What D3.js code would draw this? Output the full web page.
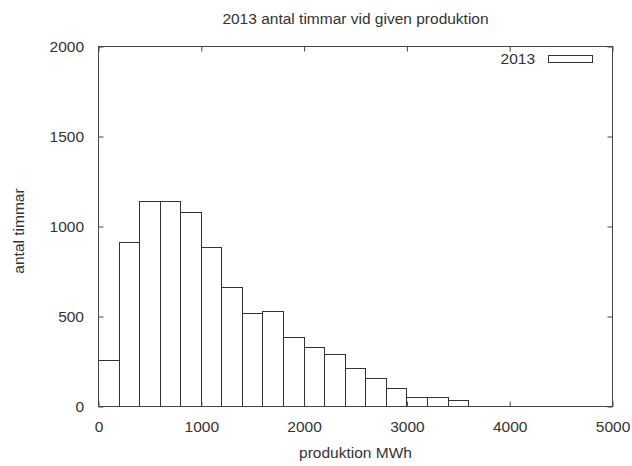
<!DOCTYPE html>
<html>
<head>
<meta charset="utf-8">
<script src="https://cdn.jsdelivr.net/npm/d3@7"></script>
<style>
  html, body { margin: 0; padding: 0; background: #fff; }
  svg { display: block; }
  text { font-family: "Liberation Sans", Arial, sans-serif; fill: #333; }
</style>
</head>
<body>
<svg id="chart" width="632" height="466"></svg>
<script>
// Histogram of hours per production bin (200 MWh bins)
const binStarts = [0, 200, 400, 600, 800, 1000, 1200, 1400, 1600, 1800,
                   2000, 2200, 2400, 2600, 2800, 3000, 3200, 3400];
const hours2013 = [255, 913, 1139, 1141, 1076, 883, 661, 519, 528, 385,
                   328, 291, 213, 157, 98, 52, 48, 35];
const binWidth = 200;
const xTicks = [0, 1000, 2000, 3000, 4000, 5000];
const yTicks = [0, 500, 1000, 1500, 2000];
const seriesName = "2013";

const W = 632, H = 466;
const plot = { left: 98.5, right: 612.5, top: 46.5, bottom: 406.5 };
const fontSize = 15.5;
const lineColor = "#444";
const tickLen = 5;

const svg = d3.select("#chart");
const x = d3.scaleLinear().domain([0, 5000]).range([plot.left, plot.right]);
const y = d3.scaleLinear().domain([0, 2000]).range([plot.bottom, plot.top]);
const snap = v => Math.round(v - 0.5) + 0.5;

// bars
svg.append("g")
  .selectAll("rect")
  .data(binStarts.map((b, i) => ({ b, v: hours2013[i] })))
  .join("rect")
  .attr("x", d => snap(x(d.b)))
  .attr("y", d => snap(y(d.v)))
  .attr("width", d => snap(x(d.b + binWidth)) - snap(x(d.b)))
  .attr("height", d => snap(y(0)) - snap(y(d.v)))
  .attr("fill", "#fff")
  .attr("stroke", "#333")
  .attr("stroke-width", 1);

// axes with inward ticks, gnuplot style
function styleAxis(g) {
  g.select(".domain").remove();
  g.selectAll(".tick line").attr("stroke", lineColor);
  g.selectAll(".tick text")
    .attr("font-size", fontSize)
    .attr("font-family", '"Liberation Sans", Arial, sans-serif')
    .attr("fill", "#333");
}

svg.append("g")
  .attr("transform", `translate(0,${plot.bottom})`)
  .call(d3.axisBottom(x).tickValues(xTicks).tickSize(-tickLen).tickPadding(14.5).tickFormat(d3.format("d")))
  .call(styleAxis);

svg.append("g")
  .attr("transform", `translate(0,${plot.top})`)
  .call(d3.axisTop(x).tickValues(xTicks).tickSize(-tickLen).tickFormat(""))
  .call(styleAxis);

svg.append("g")
  .attr("transform", `translate(${plot.left},0)`)
  .call(d3.axisLeft(y).tickValues(yTicks).tickSize(-tickLen).tickPadding(14.5).tickFormat(d3.format("d")))
  .call(styleAxis);

svg.append("g")
  .attr("transform", `translate(${plot.right},0)`)
  .call(d3.axisRight(y).tickValues(yTicks).tickSize(-tickLen).tickFormat(""))
  .call(styleAxis);

// frame
svg.append("rect")
  .attr("x", plot.left).attr("y", plot.top)
  .attr("width", plot.right - plot.left)
  .attr("height", plot.bottom - plot.top)
  .attr("fill", "none")
  .attr("stroke", lineColor)
  .attr("stroke-width", 1);

// title and axis labels
const cx = (plot.left + plot.right) / 2;
svg.append("text")
  .attr("x", cx).attr("y", 23.5)
  .attr("text-anchor", "middle")
  .attr("font-size", fontSize)
  .text("2013 antal timmar vid given produktion");

svg.append("text")
  .attr("x", cx).attr("y", 458)
  .attr("text-anchor", "middle")
  .attr("font-size", fontSize)
  .text("produktion MWh");

svg.append("text")
  .attr("transform", `translate(23.5,231) rotate(-90)`)
  .attr("text-anchor", "middle")
  .attr("font-size", fontSize)
  .text("antal timmar");

// legend
svg.append("text")
  .attr("x", 535).attr("y", 58.5)
  .attr("dy", "0.35em")
  .attr("text-anchor", "end")
  .attr("font-size", fontSize)
  .text(seriesName);

svg.append("rect")
  .attr("x", 548.5).attr("y", 55.5)
  .attr("width", 44).attr("height", 7)
  .attr("fill", "#fff")
  .attr("stroke", "#333")
  .attr("stroke-width", 1);
</script>
</body>
</html>
